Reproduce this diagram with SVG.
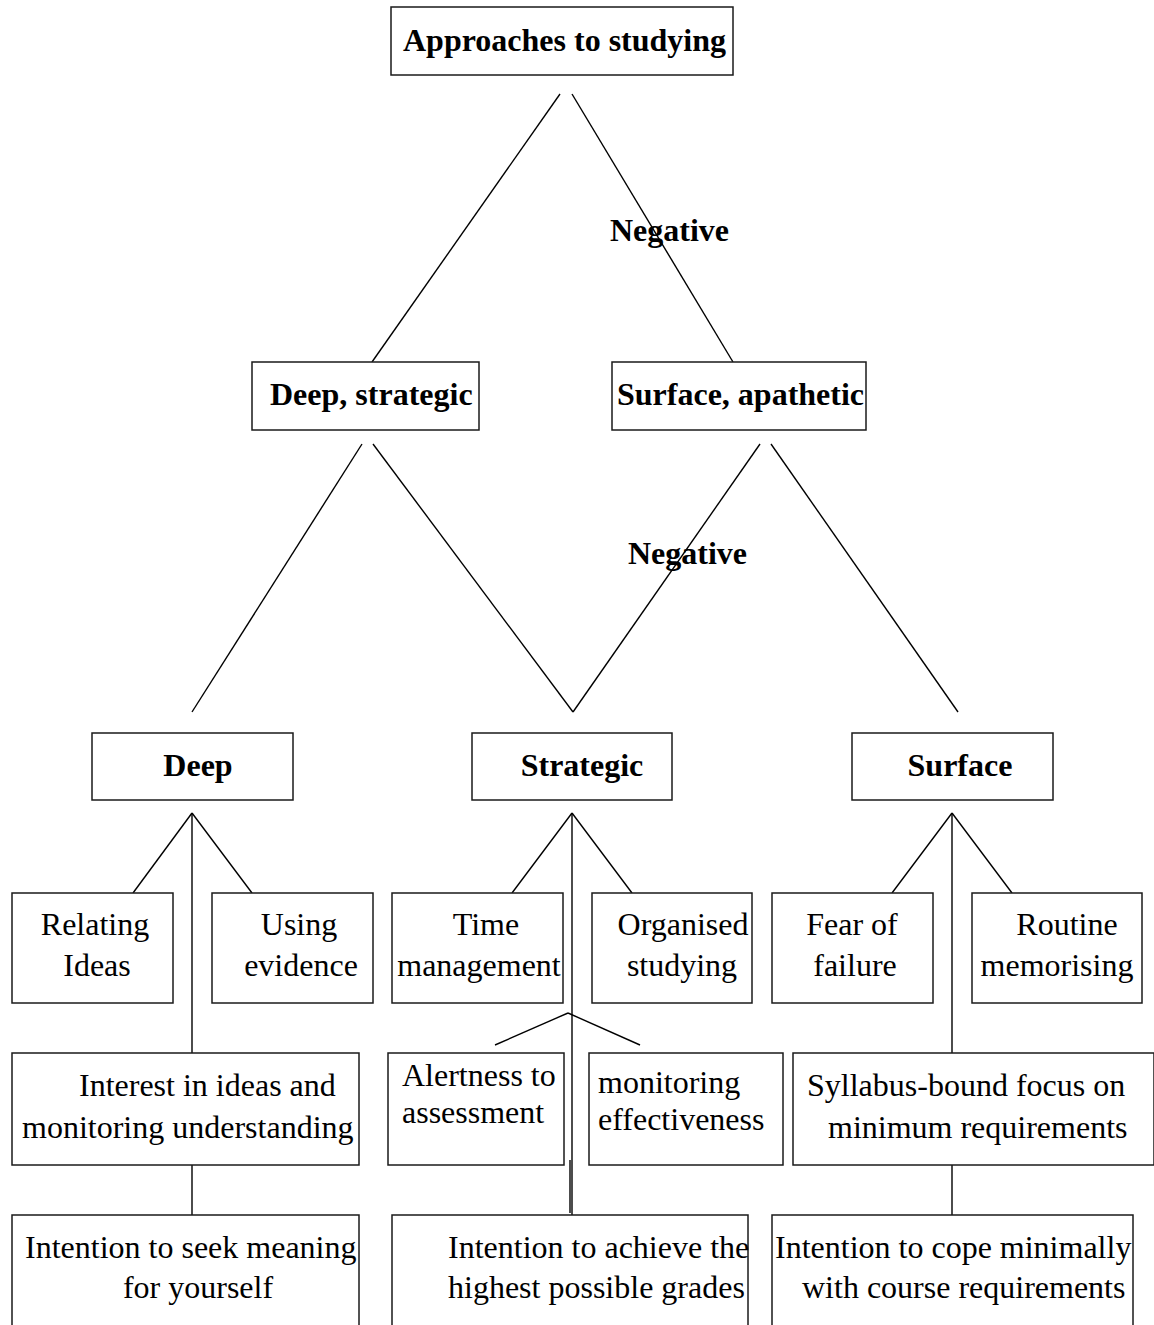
<svg xmlns="http://www.w3.org/2000/svg" width="1154" height="1325" viewBox="0 0 1154 1325">
<style>
.box{fill:#fff;stroke:#1a1a1a;stroke-width:1.5}
.ln{stroke:#000;stroke-width:1.4;fill:none}
.b{font-family:"Liberation Serif","Times New Roman",serif;font-weight:bold;font-size:32px;fill:#000}
.t{font-family:"Liberation Serif","Times New Roman",serif;font-size:32px;fill:#000}
</style>
<rect width="1154" height="1325" fill="#fff"/>
<g id="connectors">
<line class="ln" x1="560" y1="94" x2="372" y2="362"/>
<line class="ln" x1="572" y1="94" x2="733" y2="362"/>
<line class="ln" x1="362" y1="444" x2="192" y2="712"/>
<line class="ln" x1="373" y1="444" x2="573" y2="712"/>
<line class="ln" x1="573" y1="712" x2="760" y2="444"/>
<line class="ln" x1="771" y1="444" x2="958" y2="712"/>
<line class="ln" x1="192" y1="813" x2="133" y2="893"/>
<line class="ln" x1="192" y1="813" x2="252" y2="893"/>
<line class="ln" x1="192" y1="813" x2="192" y2="1053"/>
<line class="ln" x1="572" y1="813" x2="512" y2="893"/>
<line class="ln" x1="572" y1="813" x2="632" y2="893"/>
<line class="ln" x1="572" y1="813" x2="572" y2="1215"/>
<line class="ln" x1="570" y1="1160" x2="570" y2="1213"/>
<line class="ln" x1="568" y1="1013" x2="495" y2="1045"/>
<line class="ln" x1="568" y1="1013" x2="640" y2="1045"/>
<line class="ln" x1="952" y1="813" x2="892" y2="893"/>
<line class="ln" x1="952" y1="813" x2="1012" y2="893"/>
<line class="ln" x1="952" y1="813" x2="952" y2="1053"/>
<line class="ln" x1="192" y1="1162" x2="192" y2="1215"/>
<line class="ln" x1="952" y1="1162" x2="952" y2="1215"/>
<text class="b" x="610" y="241">Negative</text>
<text class="b" x="628" y="564">Negative</text>
</g>
<g id="n-approaches"><rect class="box" x="391" y="7" width="342" height="68"/><text class="b" x="403" y="51">Approaches to studying</text></g>
<g id="n-deepstrategic"><rect class="box" x="252" y="362" width="227" height="68"/><text class="b" x="270" y="405">Deep, strategic</text></g>
<g id="n-surfaceapathetic"><rect class="box" x="612" y="362" width="254" height="68"/><text class="b" x="617" y="405">Surface, apathetic</text></g>
<g id="n-deep"><rect class="box" x="92" y="733" width="201" height="67"/><text class="b" x="198" y="776" text-anchor="middle">Deep</text></g>
<g id="n-strategic"><rect class="box" x="472" y="733" width="200" height="67"/><text class="b" x="582" y="776" text-anchor="middle">Strategic</text></g>
<g id="n-surface"><rect class="box" x="852" y="733" width="201" height="67"/><text class="b" x="960" y="776" text-anchor="middle">Surface</text></g>
<g id="n-relating"><rect class="box" x="12" y="893" width="161" height="110"/><text class="t" x="95" y="935" text-anchor="middle">Relating</text><text class="t" x="97" y="976" text-anchor="middle">Ideas</text></g>
<g id="n-using"><rect class="box" x="212" y="893" width="161" height="110"/><text class="t" x="299" y="935" text-anchor="middle">Using</text><text class="t" x="301" y="976" text-anchor="middle">evidence</text></g>
<g id="n-time"><rect class="box" x="392" y="893" width="171" height="110"/><text class="t" x="486" y="935" text-anchor="middle">Time</text><text class="t" x="479" y="976" text-anchor="middle">management</text></g>
<g id="n-organised"><rect class="box" x="592" y="893" width="160" height="110"/><text class="t" x="683" y="935" text-anchor="middle">Organised</text><text class="t" x="682" y="976" text-anchor="middle">studying</text></g>
<g id="n-fear"><rect class="box" x="772" y="893" width="161" height="110"/><text class="t" x="852" y="935" text-anchor="middle">Fear of</text><text class="t" x="855" y="976" text-anchor="middle">failure</text></g>
<g id="n-routine"><rect class="box" x="972" y="893" width="170" height="110"/><text class="t" x="1067" y="935" text-anchor="middle">Routine</text><text class="t" x="1057" y="976" text-anchor="middle">memorising</text></g>
<g id="n-interest"><rect class="box" x="12" y="1053" width="347" height="112"/><text class="t" x="79" y="1096">Interest in ideas and</text><text class="t" x="22" y="1138">monitoring understanding</text></g>
<g id="n-alertness"><rect class="box" x="388" y="1053" width="176" height="112"/><text class="t" x="402" y="1086">Alertness to</text><text class="t" x="402" y="1123">assessment</text></g>
<g id="n-monitoring"><rect class="box" x="589" y="1053" width="194" height="112"/><text class="t" x="598" y="1093">monitoring</text><text class="t" x="598" y="1130">effectiveness</text></g>
<g id="n-syllabus"><rect class="box" x="793" y="1053" width="361" height="112"/><text class="t" x="807" y="1096">Syllabus-bound focus on</text><text class="t" x="828" y="1138">minimum requirements</text></g>
<g id="n-seek"><rect class="box" x="12" y="1215" width="347" height="120"/><text class="t" x="25" y="1258">Intention to seek meaning</text><text class="t" x="198" y="1298" text-anchor="middle">for yourself</text></g>
<g id="n-achieve"><rect class="box" x="392" y="1215" width="356" height="120"/><text class="t" x="448" y="1258">Intention to achieve the</text><text class="t" x="448" y="1298">highest possible grades</text></g>
<g id="n-cope"><rect class="box" x="772" y="1215" width="361" height="120"/><text class="t" x="775" y="1258">Intention to cope minimally</text><text class="t" x="802" y="1298">with course requirements</text></g>
</svg>
